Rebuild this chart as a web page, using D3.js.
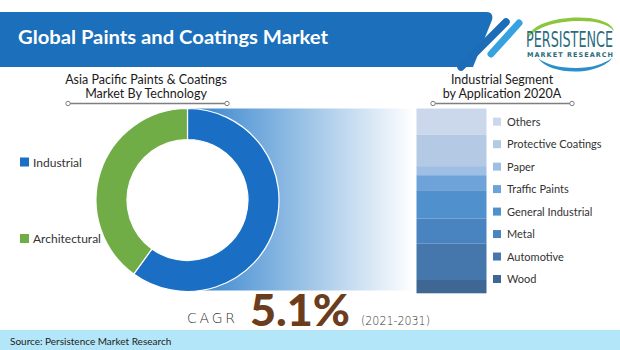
<!DOCTYPE html>
<html><head><meta charset="utf-8">
<script src="https://cdn.jsdelivr.net/npm/d3@7"></script>
<style>
html,body{margin:0;padding:0;background:#fff;}
svg{display:block;}
</style></head>
<body>
<svg id="chart" width="620" height="350"></svg>
<script>
// ---- data ----
const titleText = "Global Paints and Coatings Market";
const leftTitle = ["Asia Pacific Paints & Coatings", "Market By Technology"];
const rightTitle = ["Industrial Segment", "by Application 2020A"];
const techCategories = ["Industrial", "Architectural"];
const techValues = [60, 40];
const techColors = ["#1a6fc4", "#70ad47"];
const appCategories = ["Others", "Protective Coatings", "Paper", "Traffic Paints", "General Industrial", "Metal", "Automotive", "Wood"];
const appValues = [14.1, 17.1, 4.9, 8.5, 14.9, 13.5, 19.8, 7.2];
const appColors = ["#cbd8ec", "#b3c9e4", "#9fbee3", "#6ea3d9", "#5090cd", "#4a84c0", "#4577ad", "#3e6794"];
const cagrValue = "5.1%";
const cagrPeriod = "(2021-2031)";
const sourceText = "Source: Persistence Market Research";

const svg = d3.select("#chart");
const defs = svg.append("defs");

// ---- header ----
svg.append("path")
  .attr("d", "M0,12 H486 Q494,12 492,20 L473,67 H0 Z")
  .attr("fill", "#1c6fba");
svg.append("line").attr("x1", 506).attr("y1", 22).attr("x2", 461).attr("y2", 67)
  .attr("stroke", "#1c6cb8").attr("stroke-width", 7.5).attr("stroke-linecap", "round");
svg.append("line").attr("x1", 519).attr("y1", 23).attr("x2", 491).attr("y2", 54)
  .attr("stroke", "#38a2e0").attr("stroke-width", 7).attr("stroke-linecap", "round");
svg.append("text").text(titleText)
  .attr("x", 18).attr("y", 44)
  .attr("font-family", "Lato, 'Open Sans', sans-serif").attr("font-weight", 700)
  .attr("font-size", 18).attr("fill", "#fff")
  .attr("textLength", 310).attr("lengthAdjust", "spacingAndGlyphs");

// ---- logo ----
const logo = svg.append("g");
logo.append("path")
  .attr("d", "M527,40 C528,24 560,15 590,18 C604,20 613,25 614,31 C608,24 596,21 580,21 C555,21 533,28 527,40 Z")
  .attr("fill", "#8cc63f");
logo.append("path")
  .attr("d", "M538,58 C546,70 570,74 590,70 C602,67 610,62 612,58 C604,64 592,68 576,68 C558,68 545,64 538,58 Z")
  .attr("fill", "#2c8fc9");
logo.append("g").attr("transform", "translate(526,46.5) scale(1,1.45)")
  .append("text").text("PERSISTENCE")
  .attr("x", 0).attr("y", 0)
  .attr("font-family", "'Liberation Sans Narrow', 'DejaVu Sans Condensed', sans-serif")
  .attr("font-size", 15).attr("fill", "#2b6b80")
  .attr("textLength", 87).attr("lengthAdjust", "spacingAndGlyphs");
logo.append("text").text("MARKET RESEARCH")
  .attr("x", 527).attr("y", 57)
  .attr("font-family", "'DejaVu Sans', sans-serif").attr("font-weight", 700)
  .attr("font-size", 6.5).attr("fill", "#2b6b80")
  .attr("textLength", 86).attr("lengthAdjust", "spacing");

// ---- subtitles ----
function subtitle(lines, cx, x1, x2) {
  const g = svg.append("g");
  lines.forEach((t, i) => {
    g.append("text").text(t).attr("x", cx).attr("y", 84 + i * 14)
      .attr("text-anchor", "middle")
      .attr("font-family", "Lato, 'Open Sans', sans-serif").attr("font-size", 12.5)
      .attr("fill", "#1a1a1a");
  });
  g.append("line").attr("x1", x1).attr("x2", x2).attr("y1", 103.5).attr("y2", 103.5)
    .attr("stroke", "#7f7f7f").attr("stroke-width", 1.3);
  [x1, x2].forEach(x => g.append("circle").attr("cx", x).attr("cy", 103.5).attr("r", 2.2)
    .attr("fill", "#fff").attr("stroke", "#7f7f7f").attr("stroke-width", 1));
}
subtitle(leftTitle, 146, 68, 227);
subtitle(rightTitle, 502, 433, 572);

// ---- gradient band ----
const grad = defs.append("linearGradient").attr("id", "band")
  .attr("gradientUnits", "userSpaceOnUse").attr("x1", 200).attr("x2", 414).attr("y1", 0).attr("y2", 0);
grad.append("stop").attr("offset", 0).attr("stop-color", "#3c88cf");
grad.append("stop").attr("offset", 0.4).attr("stop-color", "#8ab8e2");
grad.append("stop").attr("offset", 1).attr("stop-color", "#ffffff");
svg.append("rect").attr("x", 188).attr("y", 108.5).attr("width", 226).attr("height", 182)
  .attr("fill", "url(#band)");

// ---- donut ----
const cx = 187.5, cy = 200, rOuter = 91.5, rInner = 60.5;
const pie = d3.pie().sort(null).value(d => d.v);
const arc = d3.arc().innerRadius(rInner).outerRadius(rOuter);
const techData = techCategories.map((c, i) => ({ c, v: techValues[i], col: techColors[i] }));
const donut = svg.append("g").attr("transform", `translate(${cx},${cy})`);
donut.append("circle").attr("r", rInner).attr("fill", "#fff");
donut.selectAll("path").data(pie(techData)).join("path")
  .attr("d", arc).attr("fill", d => d.data.col)
  .attr("stroke", "#fff").attr("stroke-width", 1.2);

// left legend
const legL = d3.scaleOrdinal().domain(techCategories).range([162, 238.5]);
techData.forEach(d => {
  svg.append("rect").attr("x", 20).attr("y", legL(d.c) - 4.5).attr("width", 9).attr("height", 9).attr("fill", d.col);
  svg.append("text").text(d.c).attr("x", 33).attr("y", legL(d.c) + 4.5)
    .attr("font-family", "Lato, 'Open Sans', sans-serif").attr("font-size", 12).attr("fill", "#333");
});

// ---- stacked bar ----
const total = d3.sum(appValues);
const y = d3.scaleLinear().domain([0, total]).range([108.5, 293.3]);
let acc = 0;
const appData = appCategories.map((c, i) => { const d = { c, v: appValues[i], y0: acc, col: appColors[i] }; acc += appValues[i]; return d; });
svg.append("g").selectAll("rect").data(appData).join("rect")
  .attr("x", 416.5).attr("width", 70)
  .attr("y", d => y(d.y0)).attr("height", d => y(d.y0 + d.v) - y(d.y0))
  .attr("fill", d => d.col);

// right legend
const legR = d3.scalePoint().domain(appCategories).range([121.7, 279]);
const lg = svg.append("g").selectAll("g").data(appData).join("g")
  .attr("transform", d => `translate(493,${legR(d.c)})`);
lg.append("rect").attr("x", 0).attr("y", -4).attr("width", 8).attr("height", 8).attr("fill", d => d.col);
lg.append("text").text(d => d.c).attr("x", 14).attr("y", 4)
  .attr("font-family", "Lato, 'Open Sans', sans-serif").attr("font-size", 11).attr("fill", "#333");

// ---- CAGR ----
svg.append("text").text("CAGR").attr("x", 187).attr("y", 323)
  .attr("font-family", "'DejaVu Sans', sans-serif").attr("font-weight", 300).attr("font-size", 14)
  .attr("fill", "#333").attr("textLength", 48).attr("lengthAdjust", "spacing");
svg.append("text").text(cagrValue).attr("x", 250).attr("y", 326)
  .attr("font-family", "Lato, sans-serif").attr("font-weight", 900).attr("font-size", 44)
  .attr("fill", "#6b3d1c").attr("textLength", 100).attr("lengthAdjust", "spacingAndGlyphs");
svg.append("text").text(cagrPeriod).attr("x", 361).attr("y", 325)
  .attr("font-family", "'DejaVu Sans', sans-serif").attr("font-weight", 300).attr("font-size", 13)
  .attr("fill", "#333").attr("textLength", 69).attr("lengthAdjust", "spacingAndGlyphs");

// ---- source band ----
svg.append("rect").attr("x", 0).attr("y", 330).attr("width", 620).attr("height", 20).attr("fill", "#b3e6f8");
svg.append("text").text(sourceText).attr("x", 10).attr("y", 345)
  .attr("font-family", "Lato, 'Open Sans', sans-serif").attr("font-size", 10).attr("fill", "#222");
</script>
</body></html>
